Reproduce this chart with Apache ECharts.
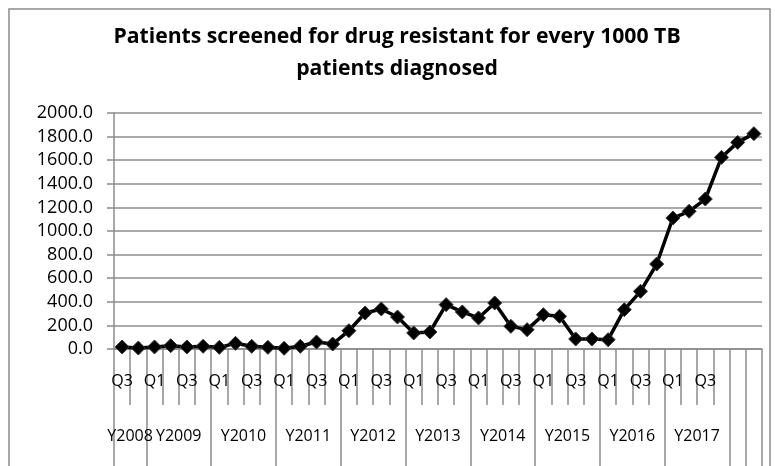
<!DOCTYPE html>
<html>
<head>
<meta charset="utf-8" />
<script src="https://cdn.jsdelivr.net/npm/echarts@6/dist/echarts.min.js"></script>
<style>
  html, body { margin: 0; padding: 0; background: #fff; }
  #chart { width: 775px; height: 466px; }
</style>
</head>
<body>
<div id="chart"></div>
<script>
// quarter of each point, two blank columns at the end like the source sheet
const quarters = [
  "Q3", "Q4",
  "Q1", "Q2", "Q3", "Q4",
  "Q1", "Q2", "Q3", "Q4",
  "Q1", "Q2", "Q3", "Q4",
  "Q1", "Q2", "Q3", "Q4",
  "Q1", "Q2", "Q3", "Q4",
  "Q1", "Q2", "Q3", "Q4",
  "Q1", "Q2", "Q3", "Q4",
  "Q1", "Q2", "Q3", "Q4",
  "Q1", "Q2", "Q3", "Q4",
  "", "",
];
const years = [
  "Y2008", "Y2008",
  "Y2009", "Y2009", "Y2009", "Y2009",
  "Y2010", "Y2010", "Y2010", "Y2010",
  "Y2011", "Y2011", "Y2011", "Y2011",
  "Y2012", "Y2012", "Y2012", "Y2012",
  "Y2013", "Y2013", "Y2013", "Y2013",
  "Y2014", "Y2014", "Y2014", "Y2014",
  "Y2015", "Y2015", "Y2015", "Y2015",
  "Y2016", "Y2016", "Y2016", "Y2016",
  "Y2017", "Y2017", "Y2017", "Y2017",
  "", "",
];
const screened = [
  17, 8, 17, 28, 17, 23, 14, 48, 23, 14,
  6, 23, 59, 42, 155, 305, 339, 271, 136, 144,
  376, 314, 263, 390, 192, 164, 291, 277, 85, 85,
  79, 333, 489, 720, 1110, 1167, 1271, 1624, 1751, 1825,
];
const yTicks = [0, 200, 400, 600, 800, 1000, 1200, 1400, 1600, 1800, 2000];

const gray = "#8c8c8c";
const font = "Open Sans";

// where each year group starts, and which column carries its label
const yearStart = years.map((y, i) => i === 0 || y === "" || y !== years[i - 1]);
const yearLabelAt = {};
years.forEach((y, i) => {
  if (!yearStart[i] || y === "") return;
  let len = 1;
  while (years[i + len] === y) len++;
  yearLabelAt[i + len / 2 - 1] = true;
});

const chart = echarts.init(document.getElementById("chart"));
const option = {
  animation: false,
  backgroundColor: "#fff",
  title: {
    text: "Patients screened for drug resistant for every 1000 TB\npatients diagnosed",
    left: 392,
    textAlign: "center",
    top: 16,
    textStyle: {
      fontFamily: font,
      fontWeight: "bold",
      fontSize: 21.2,
      lineHeight: 32,
      color: "#000",
    },
  },
  graphic: [
    {
      type: "rect",
      shape: { x: 9, y: 9, width: 761, height: 480 },
      style: { fill: "none", stroke: gray, lineWidth: 1.5 },
      silent: true,
    },
  ],
  grid: { left: 114, right: 13, top: 113, bottom: 117 },
  xAxis: [
    {
      type: "category",
      data: quarters,
      boundaryGap: true,
      axisLine: { show: true, onZero: false, lineStyle: { color: gray, width: 1.5 } },
      axisTick: { show: true, interval: 0, length: 56, lineStyle: { color: gray, width: 1.5 } },
      axisLabel: {
        interval: 1,
        margin: 24,
        fontFamily: font,
        fontSize: 16,
        color: "#000",
      },
    },
    {
      type: "category",
      data: years,
      position: "bottom",
      boundaryGap: true,
      axisLine: { show: false, onZero: false },
      axisTick: {
        show: true,
        interval: (i) => yearStart[i],
        length: 140,
        lineStyle: { color: gray, width: 1.5 },
      },
      axisLabel: {
        interval: (i) => !!yearLabelAt[i],
        margin: 79,
        padding: [0, 0, 0, 16],
        fontFamily: font,
        fontSize: 16,
        color: "#000",
      },
    },
  ],
  yAxis: {
    type: "value",
    min: yTicks[0],
    max: yTicks[yTicks.length - 1],
    interval: yTicks[1] - yTicks[0],
    axisLine: { show: true, lineStyle: { color: gray, width: 1.5 } },
    axisTick: { show: true, length: 7, lineStyle: { color: gray, width: 1.5 } },
    splitLine: { lineStyle: { color: gray, width: 1.5 } },
    axisLabel: {
      margin: 21,
      fontFamily: font,
      fontSize: 18,
      color: "#000",
      formatter: (v) => v.toFixed(1),
    },
  },
  series: [
    {
      type: "line",
      data: screened,
      xAxisIndex: 0,
      symbol: "diamond",
      symbolSize: 14,
      showAllSymbol: true,
      lineStyle: { color: "#000", width: 3.5 },
      itemStyle: { color: "#000", borderColor: "#333", borderWidth: 1 },
    },
  ],
};
chart.setOption(option);
</script>
</body>
</html>
